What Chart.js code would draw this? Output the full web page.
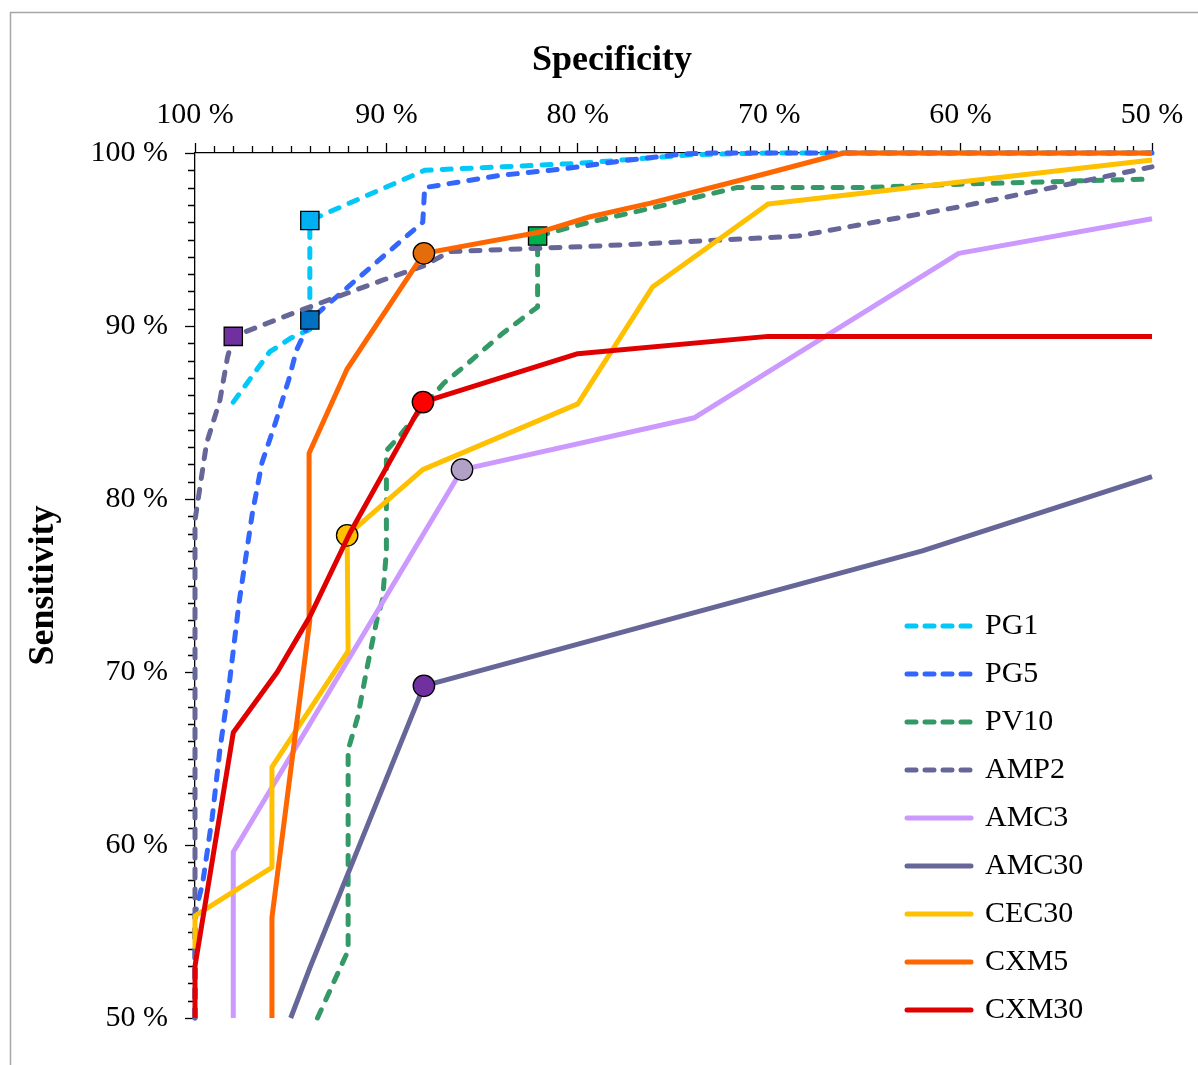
<!DOCTYPE html>
<html>
<head>
<meta charset="utf-8">
<script src="https://cdn.jsdelivr.net/npm/chart.js@4.4.1/dist/chart.umd.min.js"></script>
<style>
  html, body { margin: 0; padding: 0; background: #fff; }
  canvas { display: block; }
</style>
</head>
<body>
<canvas id="roc" width="1198" height="1065"></canvas>
<script>
// ROC curves: specificity (%) on the reversed top axis, sensitivity (%) on the left axis
const seriesNames = ['PG1', 'PG5', 'PV10', 'AMP2', 'AMC3', 'AMC30', 'CEC30', 'CXM5', 'CXM30'];

const pg1Spec = [98.0, 96.1, 95.0, 94.0, 94.0, 88.0, 80.0, 74.0, 70.0, 50.0];
const pg1Sens = [85.6, 88.5, 89.3, 89.8, 96.1, 99.0, 99.4, 99.9, 100, 100];

const pg5Spec = [100, 100, 99.6, 99.1, 98.7, 98.2, 97.7, 97.0, 96.5, 95.8, 95.1, 94.7, 94.25, 94.0, 88.1, 88.0, 84.1, 80.6, 78.0, 74.5, 73.0, 50];
const pg5Sens = [50, 56.0, 57.8, 61.6, 65.5, 69.4, 74.0, 79.2, 82.1, 84.4, 86.9, 88.6, 89.65, 90.35, 96.0, 98.0, 98.7, 99.1, 99.5, 99.95, 100, 100];

const pv10Spec = [93.6, 92.0, 92.0, 91.5, 91.0, 90.5, 90.2, 90.0, 90.0, 89.5, 88.1, 87.0, 86.0, 83.9, 82.1, 82.1, 79.4, 76.2, 71.7, 65.0, 60.0, 50.0];
const pv10Sens = [50.0, 53.9, 65.5, 67.4, 70.3, 73.0, 74.2, 77.0, 82.8, 83.4, 85.3, 86.7, 87.6, 89.6, 91.1, 95.2, 96.0, 96.8, 98.0, 98.0, 98.2, 98.5];

const amp2Spec = [100, 100, 99.9, 99.4, 98.7, 98.3, 98.0, 94.5, 90.2, 88.0, 86.7, 82.0, 79.4, 70.2, 68.5, 60.0, 50.0];
const amp2Sens = [50, 78.8, 79.5, 83.2, 85.7, 88.2, 89.4, 90.9, 92.65, 93.5, 94.3, 94.5, 94.6, 95.1, 95.2, 96.9, 99.2];

const amc3Spec = [98.0, 98.0, 86.05, 73.9, 60.1, 50];
const amc3Sens = [50, 59.6, 81.7, 84.7, 94.2, 96.2];

const amc30Spec = [95.0, 94.0, 88.04, 62.0, 50];
const amc30Sens = [50, 52.9, 69.2, 77.0, 81.3];

const cec30Spec = [100, 100, 95.98, 95.98, 92.0, 92.05, 88.1, 80.0, 76.1, 70.06, 50];
const cec30Sens = [54.0, 55.9, 58.7, 64.5, 71.2, 77.9, 81.7, 85.5, 92.25, 97.05, 99.6];

const cxm5Spec = [95.98, 95.98, 94.0, 94.04, 92.06, 88.04, 82.08, 79.4, 76.2, 70.2, 66.1, 50];
const cxm5Sens = [50, 55.8, 73.0, 82.65, 87.5, 94.2, 95.4, 96.3, 97.1, 98.8, 100, 100];

const cxm30Spec = [100, 100, 98.0, 95.7, 94.0, 91.9, 88.09, 80.0, 70.06, 50];
const cxm30Sens = [50, 53.0, 66.5, 70.0, 73.2, 78.05, 85.6, 88.4, 89.4, 89.4];

// cut-off points marked on each curve
const markerSpec = [94.0, 94.0, 82.1, 98.0, 86.05, 88.04, 92.05, 88.04, 88.09];
const markerSens = [96.1, 90.35, 95.2, 89.4, 81.7, 69.2, 77.9, 94.2, 85.6];

const specTicks = [100, 90, 80, 70, 60, 50];
const sensTicks = [100, 90, 80, 70, 60, 50];

// styles
const lineColors = ['#00C8F8', '#3366FF', '#339966', '#666699', '#CC99FF', '#666699', '#FFC000', '#FF6600', '#E00000'];
const dashed = [true, true, true, true, false, false, false, false, false];
const markerColors = ['#00B0F0', '#0070C0', '#00B050', '#7030A0', '#B2A1C7', '#7030A0', '#FFC000', '#E46C0A', '#FF0000'];
const markerShapes = ['rect', 'rect', 'rect', 'rect', 'circle', 'circle', 'circle', 'circle', 'circle'];

const specData = [pg1Spec, pg5Spec, pv10Spec, amp2Spec, amc3Spec, amc30Spec, cec30Spec, cxm5Spec, cxm30Spec];
const sensData = [pg1Sens, pg5Sens, pv10Sens, amp2Sens, amc3Sens, amc30Sens, cec30Sens, cxm5Sens, cxm30Sens];

Chart.defaults.font.family = "'Liberation Serif', 'Times New Roman', serif";
Chart.defaults.color = '#000';

// small picture of the line used as the legend symbol (keeps the dashes)
function legendSample(color, isDashed) {
    const c = document.createElement('canvas');
    c.width = 70;
    c.height = 10;
    const g = c.getContext('2d');
    g.strokeStyle = color;
    g.lineWidth = 5;
    g.lineCap = 'round';
    g.setLineDash(isDashed ? [9, 9] : []);
    g.beginPath();
    g.moveTo(3, 5);
    g.lineTo(67, 5);
    g.stroke();
    return c;
}

const datasets = [];
seriesNames.forEach(function (name, i) {
    datasets.push({
        label: name,
        data: specData[i].map(function (x, j) { return { x: x, y: sensData[i][j] }; }),
        showLine: true,
        borderColor: lineColors[i],
        backgroundColor: lineColors[i],
        borderWidth: 5,
        borderDash: dashed[i] ? [9, 11] : [],
        borderCapStyle: dashed[i] ? 'round' : 'butt',
        borderJoinStyle: 'round',
        pointStyle: legendSample(lineColors[i], dashed[i]),
        pointRadius: 0,
        pointHoverRadius: 0,
        tension: 0,
        clip: 8,
        order: 40 - 2 * i
    });
    datasets.push({
        label: name + ' cut-off',
        isMarker: true,
        data: [{ x: markerSpec[i], y: markerSens[i] }],
        showLine: false,
        pointStyle: markerShapes[i],
        pointRadius: markerShapes[i] === 'rect' ? 12.9 : 10.7,
        pointHoverRadius: markerShapes[i] === 'rect' ? 12.9 : 10.7,
        backgroundColor: markerColors[i],
        borderColor: '#000',
        borderWidth: 1.3,
        clip: false,
        order: 39 - 2 * i
    });
});

// grey frame round the picture
const framePlugin = {
    id: 'frame',
    beforeDraw: function (chart) {
        const ctx = chart.ctx;
        ctx.save();
        ctx.strokeStyle = '#a6a6a6';
        ctx.lineWidth = 1.5;
        ctx.beginPath();
        ctx.moveTo(10.5, chart.height);
        ctx.lineTo(10.5, 12.5);
        ctx.lineTo(chart.width, 12.5);
        ctx.stroke();
        ctx.restore();
    }
};

// 1 % minor tick marks on both axes
const minorTicks = {
    id: 'minorTicks',
    beforeDatasetsDraw: function (chart) {
        const ctx = chart.ctx;
        const x = chart.scales.x, y = chart.scales.y;
        ctx.save();
        ctx.strokeStyle = '#000';
        ctx.lineWidth = 1.3;
        ctx.beginPath();
        for (let v = 51; v < 100; v++) {
            if (v % 10 === 0) continue;
            const px = Math.round(x.getPixelForValue(v)) + 0.5;
            ctx.moveTo(px, x.bottom);
            ctx.lineTo(px, x.bottom - 7);
            const py = Math.round(y.getPixelForValue(v)) + 0.5;
            ctx.moveTo(y.right, py);
            ctx.lineTo(y.right - 7, py);
        }
        ctx.stroke();
        ctx.restore();
    }
};

// put the legend in the lower right of the plot
const legendSpot = {
    id: 'legendSpot',
    afterLayout: function (chart) {
        const lg = chart.legend, a = chart.chartArea;
        lg.left = a.right - 262;
        lg.top = a.top + 440;
        lg.right = lg.left + lg.width;
        lg.bottom = lg.top + lg.height;
    }
};

const axisGrid = { display: true, drawOnChartArea: false, drawTicks: true, tickLength: 10, tickColor: '#000', tickWidth: 1.3 };
const axisBorder = { display: true, color: '#000', width: 1.3 };

new Chart(document.getElementById('roc'), {
    type: 'scatter',
    data: { datasets: datasets },
    plugins: [framePlugin, minorTicks, legendSpot],
    options: {
        responsive: false,
        animation: false,
        devicePixelRatio: 1,
        layout: { padding: { left: 26, right: 0, top: 14, bottom: 47 } },
        scales: {
            x: {
                type: 'linear',
                position: 'top',
                reverse: true,
                min: 50,
                max: 100,
                afterBuildTicks: function (s) { s.ticks = specTicks.map(function (v) { return { value: v }; }); },
                afterFit: function (s) { s.height = 70.8; },
                ticks: { callback: function (v) { return v + ' %'; }, font: { size: 30 }, padding: 10, maxRotation: 0, autoSkip: false, color: '#000' },
                grid: axisGrid,
                border: axisBorder
            },
            y: {
                type: 'linear',
                position: 'left',
                min: 50,
                max: 100,
                afterBuildTicks: function (s) { s.ticks = sensTicks.map(function (v) { return { value: v }; }); },
                afterFit: function (s) { s.width = 169; },
                ticks: { callback: function (v) { return v + ' %'; }, font: { size: 30 }, padding: 17, color: '#000' },
                grid: axisGrid,
                border: axisBorder,
                title: { display: true, text: 'Sensitivity', font: { size: 36, weight: 'bold', lineHeight: 1 }, padding: 0, color: '#000' }
            },
            y2: {
                type: 'linear',
                position: 'right',
                min: 50,
                max: 100,
                ticks: { display: false },
                grid: { display: false },
                border: { display: false },
                afterFit: function (s) { s.width = 46; }
            }
        },
        plugins: {
            title: {
                display: true,
                text: 'Specificity',
                font: { size: 36, weight: 'bold', lineHeight: 1.2 },
                padding: { top: 25, bottom: 0 },
                color: '#000'
            },
            legend: {
                position: 'chartArea',
                align: 'start',
                labels: {
                    usePointStyle: true,
                    pointStyleWidth: 62,
                    font: { size: 30 },
                    padding: 18,
                    color: '#000',
                    filter: function (item, data) { return !data.datasets[item.datasetIndex].isMarker; },
                    sort: function (a, b) { return a.datasetIndex - b.datasetIndex; }
                }
            },
            tooltip: { enabled: false }
        }
    }
});
</script>
</body>
</html>
